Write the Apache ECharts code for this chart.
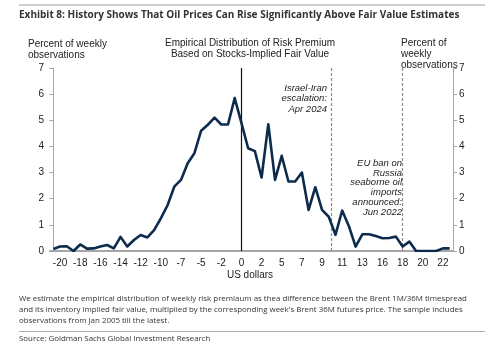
<!DOCTYPE html>
<html><head><meta charset="utf-8">
<script src="https://cdn.jsdelivr.net/npm/echarts@6/dist/echarts.min.js"></script>
<style>html,body{margin:0;padding:0;background:#fff}#c{width:500px;height:355px}</style>
</head><body><div id="c"></div>
<script>
// Category labels (US dollars, bin centres, rounded)
const categories = ['-21','-20','-19','-19','-18','-17','-16','-16','-15','-14','-14','-13','-12','-12','-11','-10','-10','-9','-8','-7','-7','-6','-5','-4','-3','-2','-1','-1','0','1','1','2','3','4','5','5','6','7','8','8','9','10','10','11','12','12','13','14','15','16','16','17','18','19','19','20','21','21','22','23'];
// Percent of weekly observations
const share = [0.08,0.17,0.18,0.0,0.25,0.09,0.1,0.17,0.23,0.1,0.54,0.17,0.42,0.61,0.52,0.8,1.25,1.75,2.46,2.72,3.36,3.74,4.6,4.83,5.1,4.84,4.84,5.85,4.9,3.93,3.82,2.81,4.85,2.72,3.64,2.66,2.66,3.0,1.57,2.44,1.57,1.31,0.62,1.55,0.95,0.17,0.64,0.64,0.57,0.49,0.5,0.55,0.17,0.36,0.0,0.0,0.0,0.0,0.1,0.1];
const yTicks = [0,1,2,3,4,5,6,7];
// Reference lines, in category-index units
const zeroIndex = 28;
const israelIranIndex = 41.4;
const euBanIndex = 52;

const title = 'Exhibit 8: History Shows That Oil Prices Can Rise Significantly Above Fair Value Estimates';
const chartTitle = ['Empirical Distribution of Risk Premium','Based on Stocks-Implied Fair Value'];
const note = ["We estimate the empirical distribution of weekly risk premiaum as thea difference between the Brent 1M/36M timespread",
"and its inventory implied fair value, multiplied by the corresponding week's Brent 36M futures price. The sample includes",
"observations from Jan 2005 till the latest."];
const source = 'Source: Goldman Sachs Global Investment Research';

const chart = echarts.init(document.getElementById('c'), null, {renderer:'canvas'});
const axisFont = 'Liberation Sans, Arial, sans-serif';
const noteFont = 'Open Sans, sans-serif';
const txt = '#222';
chart.setOption({
  animation:false,
  grid:{left:50,right:47,top:68,bottom:104,containLabel:false},
  xAxis:[{
    type:'category', data:categories, boundaryGap:true,
    axisLine:{show:true,lineStyle:{color:'#a6a6a6',width:2}},
    axisTick:{show:false},
    axisLabel:{interval:(i)=>i%3===1, color:txt, fontSize:10, fontFamily:axisFont, margin:7},
    splitLine:{show:false}
  },{
    type:'value', min:-0.5, max:categories.length-0.5, show:false
  }],
  yAxis:[{
    type:'value', min:yTicks[0], max:yTicks[yTicks.length-1], interval:1, position:'left',
    axisLine:{show:true,lineStyle:{color:'#a6a6a6',width:1}},
    axisTick:{show:true,length:4,lineStyle:{color:'#a6a6a6'}},
    axisLabel:{color:txt,fontSize:10,fontFamily:axisFont,margin:6},
    splitLine:{show:false}
  },{
    type:'value', min:yTicks[0], max:yTicks[yTicks.length-1], interval:1, position:'right',
    axisLine:{show:true,lineStyle:{color:'#a6a6a6',width:1}},
    axisTick:{show:true,length:4,lineStyle:{color:'#a6a6a6'}},
    axisLabel:{color:txt,fontSize:10,fontFamily:axisFont,margin:6},
    splitLine:{show:false}
  }],
  series:[{
    type:'line', xAxisIndex:1, yAxisIndex:0, data:[[-0.5,null]], symbol:'none', silent:true,
    markLine:{symbol:'none', silent:true, label:{show:false},
      data:[
        {xAxis:zeroIndex, lineStyle:{color:'#111',type:'solid',width:1.2}},
        {xAxis:israelIranIndex, lineStyle:{color:'#8c8c8c',type:[3,2],width:1.2}},
        {xAxis:euBanIndex, lineStyle:{color:'#8c8c8c',type:[3,2],width:1.2}}
      ]}
  },{
    type:'line', data:share, symbol:'none', smooth:false, z:5,
    lineStyle:{color:'#0d2b4c',width:2.6,join:'round'}
  }],
  graphic:[
    {type:'line',shape:{x1:19,y1:5,x2:485,y2:5},style:{stroke:'#9a9a9a',lineWidth:1}},
    {type:'text',left:19,top:10,style:{text:title,font:'bold 10px '+noteFont,fill:'#333'}},
    {type:'text',left:'center',top:37,style:{text:chartTitle.join('\n'),font:'10px '+axisFont,fill:txt,textAlign:'center',lineHeight:11.5}},
    {type:'text',left:28,top:39,style:{text:'Percent of weekly\nobservations',font:'10px '+axisFont,fill:txt,lineHeight:11}},
    {type:'text',left:401,top:38,style:{text:'Percent of\nweekly\nobservations',font:'10px '+axisFont,fill:txt,lineHeight:11}},
    {type:'text',right:173,top:83,style:{text:'Israel-Iran\nescalation:\nApr 2024',font:'italic 9.5px '+axisFont,fill:txt,textAlign:'right',lineHeight:10.5}},
    {type:'text',right:98,top:158,style:{text:'EU ban on\nRussia\nseaborne oil\nimports\nannounced:\nJun 2022',font:'italic 9.5px '+axisFont,fill:txt,textAlign:'right',lineHeight:9.9}},
    {type:'text',left:'center',top:270,style:{text:'US dollars',font:'10px '+axisFont,fill:txt,textAlign:'center'}},
    {type:'text',left:19,top:293,style:{text:note.join('\n'),font:'7.9px '+noteFont,fill:'#333',lineHeight:11}},
    {type:'line',shape:{x1:19,y1:331.5,x2:485,y2:331.5},style:{stroke:'#b0b0b0',lineWidth:1}},
    {type:'text',left:19,top:335,style:{text:source,font:'7.9px '+noteFont,fill:'#333'}}
  ]
});
</script></body></html>
